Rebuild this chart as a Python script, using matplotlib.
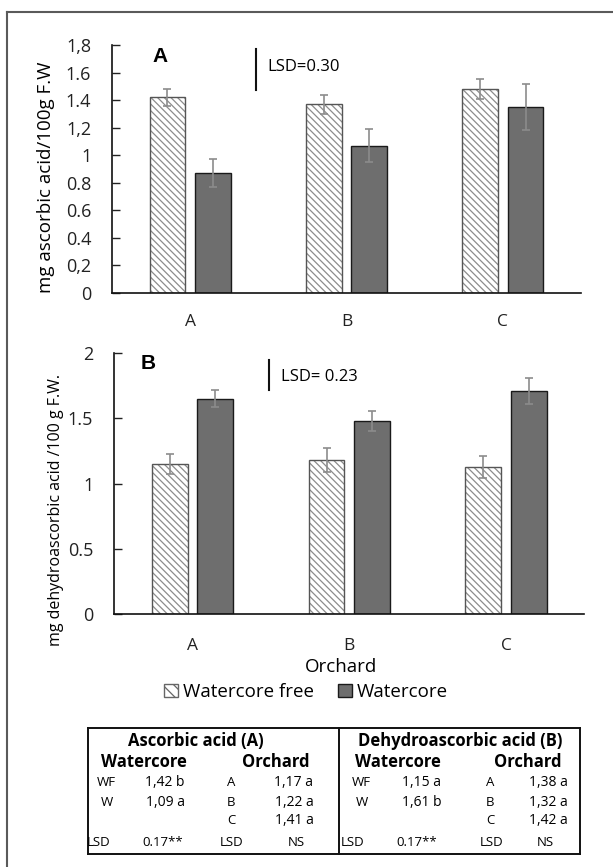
import numpy as np
import matplotlib
matplotlib.use('Agg')
import matplotlib.pyplot as plt
from matplotlib.patches import Patch
from matplotlib.lines import Line2D

plt.rcParams['font.family'] = ['Open Sans', 'DejaVu Sans']
plt.rcParams['hatch.linewidth'] = 0.9

# orchards and treatment means
orchards = ['A', 'B', 'C']
series = ['Watercore free', 'Watercore']

asc_free = [1.42, 1.37, 1.48]
asc_free_err = [0.06, 0.07, 0.075]
asc_wc = [0.87, 1.07, 1.35]
asc_wc_err = [0.10, 0.12, 0.17]
asc_lsd = 0.30
asc_ticks = [0, 0.2, 0.4, 0.6, 0.8, 1.0, 1.2, 1.4, 1.6, 1.8]
asc_ticklabels = ['0', '0,2', '0.4', '0.6', '0.8', '1', '1,2', '1.4', '1.6', '1,8']

dha_free = [1.15, 1.18, 1.13]
dha_free_err = [0.075, 0.09, 0.085]
dha_wc = [1.65, 1.48, 1.71]
dha_wc_err = [0.065, 0.075, 0.10]
dha_lsd = 0.23
dha_ticks = [0, 0.5, 1.0, 1.5, 2.0]
dha_ticklabels = ['0', '0.5', '1', '1.5', '2']

# summary table rows: (label, mean) for watercore and orchard columns
asc_wc_rows = [('WF', '1,42 b'), ('W', '1,09 a')]
asc_or_rows = [('A', '1,17 a'), ('B', '1,22 a'), ('C', '1,41 a')]
asc_lsd_row = ['LSD', '0.17**', 'LSD', 'NS']
dha_wc_rows = [('WF', '1,15 a'), ('W', '1,61 b')]
dha_or_rows = [('A', '1,38 a'), ('B', '1,32 a'), ('C', '1,42 a')]
dha_lsd_row = ['LSD', '0.17**', 'LSD', 'NS']

W, H = 613, 867
HATCH = '#8c8c8c'
DARK = '#6e6e6e'
ERR = '#8c8c8c'

fig = plt.figure(figsize=(W / 100, H / 100), dpi=100)


def fx(x):
    return x / W


def fy(y):
    return 1 - y / H


def panel(rect, free, free_err, wc, wc_err, ticks, ticklabels, ymax, xpad):
    l, t, r, b = rect
    ax = fig.add_axes([fx(l), fy(b), fx(r) - fx(l), fy(t) - fy(b)])
    x = np.arange(len(orchards))
    w = 0.228
    ax.bar(x - 0.145, free, w, color='white', edgecolor=HATCH, hatch='\\\\\\\\\\', linewidth=0)
    ax.bar(x - 0.145, free, w, fill=False, edgecolor='#555555', linewidth=1.0)
    ax.bar(x + 0.145, wc, w, color=DARK, edgecolor='#1a1a1a', linewidth=1.0)
    ek = dict(fmt='none', ecolor=ERR, elinewidth=1.2, capsize=3, capthick=1.2)
    ax.errorbar(x - 0.145, free, yerr=free_err, **ek)
    ax.errorbar(x + 0.145, wc, yerr=wc_err, **ek)
    ax.set_xlim(-0.5, 2.5)
    ax.set_ylim(0, ymax)
    ax.set_yticks(ticks)
    ax.set_yticklabels(ticklabels)
    ax.set_xticks(x)
    ax.set_xticklabels(orchards)
    ax.tick_params(axis='y', direction='in', length=6, width=1, pad=15, labelsize=13, colors='#222222')
    ax.tick_params(axis='x', length=0, pad=xpad, labelsize=12.5, colors='#222222')
    for s in ['top', 'right']:
        ax.spines[s].set_visible(False)
    for s in ['left', 'bottom']:
        ax.spines[s].set_linewidth(1.2)
        ax.spines[s].set_color('#111111')
    return ax


axA = panel((112, 45, 581, 293), asc_free, asc_free_err, asc_wc, asc_wc_err,
            asc_ticks, asc_ticklabels, 1.8, 15)
axA.text(0.102, 0.955, 'A', transform=axA.transAxes, ha='center', va='center',
         fontsize=15, fontweight='bold', family='Liberation Sans')
lx = axA.get_xlim()[0] + 0.307 * 3
axA.plot([lx, lx], [1.47, 1.47 + asc_lsd], color='#111111', lw=1.5)
axA.text(lx + 0.07, 1.47 + asc_lsd / 2 + 0.02, 'LSD=%.2f' % asc_lsd, ha='left', va='center', fontsize=12)

axB = panel((114, 353, 584.5, 614.3), dha_free, dha_free_err, dha_wc, dha_wc_err,
            dha_ticks, dha_ticklabels, 2.0, 17)
axB.text(0.073, 0.958, 'B', transform=axB.transAxes, ha='center', va='center',
         fontsize=15, fontweight='bold', family='Liberation Sans')
lx = axB.get_xlim()[0] + 0.329 * 3
axB.plot([lx, lx], [1.72, 1.72 + dha_lsd], color='#111111', lw=1.5)
axB.text(lx + 0.08, 1.72 + dha_lsd / 2 - 0.02, 'LSD= %.2f' % dha_lsd, ha='left', va='center', fontsize=12)

fig.text(fx(46), fy(177), 'mg ascorbic acid/100g F.W', rotation=90, ha='center', va='center', fontsize=13.5)
fig.text(fx(56), fy(510), 'mg dehydroascorbic acid /100 g F.W.', rotation=90, ha='center', va='center', fontsize=11.5)
fig.text(fx(341), fy(667), 'Orchard', ha='center', va='center', fontsize=13.5)

handles = [Patch(facecolor='white', edgecolor='#666666', hatch='\\\\\\'),
           Patch(facecolor=DARK, edgecolor='#1a1a1a')]
fig.legend(handles, series, loc='center', bbox_to_anchor=(fx(306), fy(692)), ncol=2,
           frameon=False, fontsize=13.5, handlelength=0.75, handleheight=0.75,
           handletextpad=0.25, columnspacing=1.3)

# summary table underneath
tl, tr, tt, tb, tm = 88, 580, 728, 854, 339
for xs, ys in [([tl, tr], [tt, tt]), ([tl, tr], [tb, tb]), ([tl, tl], [tt, tb]),
               ([tr, tr], [tt, tb]), ([tm, tm], [tt, tb])]:
    fig.add_artist(Line2D([fx(v) for v in xs], [fy(v) for v in ys], color='#111111', lw=1.4))

row_y = [783, 802, 821]
lsd_y = 843


def table_cell(title, title_x, wc_x, or_x, cols, wc_rows, or_rows, lsd_row, lsd_cols):
    fig.text(fx(title_x), fy(741), title, ha='center', va='center', fontsize=12, fontweight='bold')
    fig.text(fx(wc_x), fy(762), 'Watercore', ha='center', va='center', fontsize=12, fontweight='bold')
    fig.text(fx(or_x), fy(762), 'Orchard', ha='center', va='center', fontsize=12, fontweight='bold')
    for (lab, val), y in zip(wc_rows, row_y):
        fig.text(fx(cols[0]), fy(y), lab, ha='center', va='center', fontsize=9.5)
        fig.text(fx(cols[1]), fy(y), val, ha='center', va='center', fontsize=10)
    for (lab, val), y in zip(or_rows, row_y):
        fig.text(fx(cols[2]), fy(y), lab, ha='center', va='center', fontsize=9.5)
        fig.text(fx(cols[3]), fy(y), val, ha='center', va='center', fontsize=10)
    for txt, x in zip(lsd_row, lsd_cols):
        fig.text(fx(x), fy(lsd_y), txt, ha='center', va='center', fontsize=9.5)


table_cell('Ascorbic acid (A)', 196, 144, 276, [106.5, 165, 231.5, 294],
           asc_wc_rows, asc_or_rows, asc_lsd_row, [99, 163, 231.5, 296])
table_cell('Dehydroascorbic acid (B)', 460, 398, 527.5, [361.5, 421.5, 490, 548],
           dha_wc_rows, dha_or_rows, dha_lsd_row, [353, 417, 491.5, 545])

# outer frame (top and left edges only)
fig.add_artist(Line2D([fx(7), fx(613)], [fy(12), fy(12)], color='#5a5a5a', lw=1.5))
fig.add_artist(Line2D([fx(7), fx(7)], [fy(12), fy(867)], color='#5a5a5a', lw=1.5))

fig.savefig('out.png', dpi=100)
